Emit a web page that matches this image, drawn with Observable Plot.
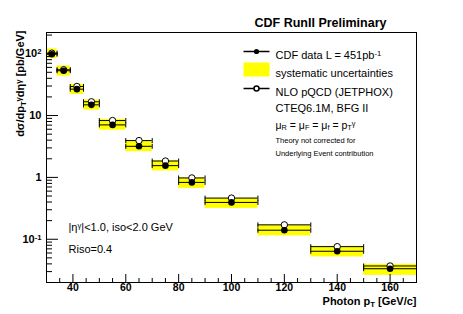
<!DOCTYPE html>
<html><head><meta charset="utf-8">
<script src="https://cdn.jsdelivr.net/npm/d3@7"></script>
<script src="https://cdn.jsdelivr.net/npm/@observablehq/plot@0.6"></script>
<style>
html,body{margin:0;padding:0;background:#fff;}
#chart svg{display:block;}
</style></head><body><div id="chart"></div>
<script>
// ---- data ----
const binLo     = [30, 34, 39, 44, 50, 60, 70, 80, 90, 110, 130, 150];
const binHi     = [34, 39, 44, 50, 60, 70, 80, 90, 110, 130, 150, 170];
const ptCenter  = [32, 36.5, 41.5, 47, 55, 65, 75, 85, 100, 120, 140, 160];
const dataXS    = [98, 53, 26.7, 14.9, 7.06, 3.18, 1.55, 0.83, 0.394, 0.140, 0.064, 0.0334];
const theoryXS  = [102, 55, 29.5, 16.7, 8.3, 3.94, 1.84, 0.98, 0.463, 0.171, 0.076, 0.037];
const sysUp     = [0.22, 0.20, 0.20, 0.20, 0.22, 0.20, 0.20, 0.18, 0.17, 0.20, 0.20, 0.18];
const sysDown   = [0.15, 0.18, 0.18, 0.18, 0.18, 0.18, 0.18, 0.20, 0.20, 0.19, 0.19, 0.22];

const xTickLabels = [40, 60, 80, 100, 120, 140, 160];
const xMinorTicks = [35, 45, 50, 55, 65, 70, 75, 85, 90, 95, 105, 110, 115, 125, 130, 135, 145, 150, 155, 165];
const yMajorTicks = [0.1, 1, 10, 100];
const yTickText   = {"0.1": "10^{-1}", "1": "1", "10": "10", "100": "10^{2}"};
const yMinorTicks = [];
for (const dec of [0.01, 0.1, 1, 10, 100]) for (let k = 2; k <= 9; k++) { const v = +(k * dec).toPrecision(3); if (v >= 0.02 && v <= 220) yMinorTicks.push(v); }

const headerText = "CDF RunII Preliminary";
const yTitle = "dσ/dp_{T}^{γ}dη^{γ} [pb/GeV]";
const xTitle = "Photon p_{T} [GeV/c]";
const legendMain = ["CDF data L = 451pb^{-1}", "systematic uncertainties", "NLO pQCD (JETPHOX)", "CTEQ6.1M, BFG II", "μ_{R} = μ_{F} = μ_{f} = p_{T}^{γ}"];
const legendSmall = ["Theory not corrected for", "Underlying Event contribution"];
const cutText = ["|η^{γ}|<1.0, iso<2.0 GeV", "Riso=0.4"];

// ---- layout ----
const W = 463, H = 314, mL = 46, mR = 47, mT = 32, mB = 32;
const fw = W - mL - mR, fh = H - mT - mB;

const rows = ptCenter.map((x, i) => ({
  x, lo: binLo[i], hi: binHi[i], d: dataXS[i], t: theoryXS[i],
  sLo: dataXS[i] * (1 - sysDown[i]), sHi: dataXS[i] * (1 + sysUp[i])
}));
const caps = rows.flatMap(r => [{x: r.lo, y: r.d}, {x: r.hi, y: r.d}, {x: r.lo, y: r.t}, {x: r.hi, y: r.t}]);

const vcap = {draw(ctx) { ctx.moveTo(0, -2.5); ctx.lineTo(0, 2.5); }};
const hline = {draw(ctx) { ctx.moveTo(-13, 0); ctx.lineTo(13, 0); }};
const ybox = {draw(ctx) { ctx.rect(-13, -7, 26, 14); }};

const font = "'Liberation Sans', Arial, Helvetica, sans-serif";
const legDy = [19, 37, 56, 72, 89];
const smallDy = [105, 118];

const plot = Plot.plot({
  width: W, height: H,
  marginLeft: mL, marginRight: mR, marginTop: mT, marginBottom: mB,
  style: {fontFamily: font, fontSize: "10px", background: "white", color: "black", overflow: "visible"},
  x: {domain: [30, 170]},
  y: {type: "log", domain: [0.02, 220]},
  marks: [
    // systematic boxes
    Plot.rectY(rows, {x1: "lo", x2: "hi", y1: "sLo", y2: "sHi", fill: "#ffff00"}),
    // horizontal bin-width bars
    Plot.ruleY(rows, {x1: "lo", x2: "hi", y: "t", stroke: "black", strokeWidth: 1}),
    Plot.ruleY(rows, {x1: "lo", x2: "hi", y: "d", stroke: "black", strokeWidth: 1}),
    Plot.dot(caps, {x: "x", y: "y", symbol: vcap, stroke: "black", strokeWidth: 1, r: 2}),
    // markers
    Plot.dot(rows, {x: "x", y: "t", r: 3.2, fill: "white", stroke: "black", strokeWidth: 1}),
    Plot.dot(rows, {x: "x", y: "d", r: 3.3, fill: "black", stroke: "none"}),
    // inward ticks
    Plot.tickY(yMinorTicks, {y: d => d, insetRight: fw - 6, stroke: "black"}),
    Plot.tickY(yMajorTicks, {y: d => d, insetRight: fw - 12, stroke: "black"}),
    Plot.tickX(xMinorTicks, {x: d => d, insetTop: fh - 4, stroke: "black"}),
    Plot.tickX(xTickLabels, {x: d => d, insetTop: fh - 8, stroke: "black"}),
    // axis labels
    Plot.axisX({ticks: xTickLabels, tickSize: 0, tickPadding: 1, label: null, fontSize: 10.5, fontWeight: "bold"}),
    Plot.axisY({ticks: yMajorTicks, tickSize: 0, tickPadding: 5, label: null, fontSize: 11, fontWeight: "bold",
                tickFormat: d => yTickText[String(d)]}),
    Plot.frame({stroke: "black"}),
    // titles
    Plot.text([headerText], {text: d => d, frameAnchor: "top-left", dx: 274, dy: -14, fontSize: 12.5, fontWeight: "bold", textAnchor: "middle"}),
    Plot.text([xTitle], {text: d => d, frameAnchor: "bottom-right", dx: 0, dy: 22, fontSize: 11, fontWeight: "bold", textAnchor: "end"}),
    Plot.text([yTitle], {text: d => d, frameAnchor: "top-left", dx: -30, dy: -2, rotate: -90, fontSize: 11, fontWeight: "bold", textAnchor: "end"}),
    // cuts
    Plot.text([cutText[0]], {text: d => d, frameAnchor: "top-left", dx: 22, dy: 191, fontSize: 11, textAnchor: "start"}),
    Plot.text([cutText[1]], {text: d => d, frameAnchor: "top-left", dx: 22, dy: 213, fontSize: 11, textAnchor: "start"}),
    // legend symbols
    Plot.dot([0], {frameAnchor: "top-left", dx: 210, dy: legDy[0], symbol: hline, stroke: "black", r: 2}),
    Plot.dot([0], {frameAnchor: "top-left", dx: 210, dy: legDy[0], r: 2.6, fill: "black"}),
    Plot.dot([0], {frameAnchor: "top-left", dx: 210, dy: legDy[1], symbol: ybox, fill: "#ffff00", r: 2}),
    Plot.dot([0], {frameAnchor: "top-left", dx: 210, dy: legDy[2], symbol: hline, stroke: "black", r: 2}),
    Plot.dot([0], {frameAnchor: "top-left", dx: 210, dy: legDy[2], r: 2.5, fill: "white", stroke: "black"}),
    // legend texts
    ...legendMain.map((s, i) => Plot.text([s], {text: d => d, frameAnchor: "top-left", dx: 229, dy: legDy[i], fontSize: i === 4 ? 10.5 : 11, textAnchor: "start"})),
    ...legendSmall.map((s, i) => Plot.text([s], {text: d => d, frameAnchor: "top-left", dx: 229, dy: smallDy[i], fontSize: 7.5, textAnchor: "start"}))
  ]
});

// rich text: ^{...} superscripts and _{...} subscripts
function richify(svg) {
  svg.querySelectorAll("text").forEach(t => {
    const s = t.textContent;
    if (!/[\^_]\{/.test(s) || t.querySelector("tspan")) return;
    while (t.firstChild) t.removeChild(t.firstChild);
    const re = /(\^|_)\{([^}]*)\}|([^\^_]+)/g;
    let m;
    while ((m = re.exec(s))) {
      const ts = document.createElementNS("http://www.w3.org/2000/svg", "tspan");
      if (m[3] !== undefined) { ts.textContent = m[3]; }
      else {
        ts.textContent = m[2];
        ts.setAttribute("font-size", "70%");
        ts.setAttribute("baseline-shift", m[1] === "^" ? "38%" : "-20%");
      }
      t.appendChild(ts);
    }
  });
}
richify(plot);
document.getElementById("chart").appendChild(plot);
</script>
</body></html>
